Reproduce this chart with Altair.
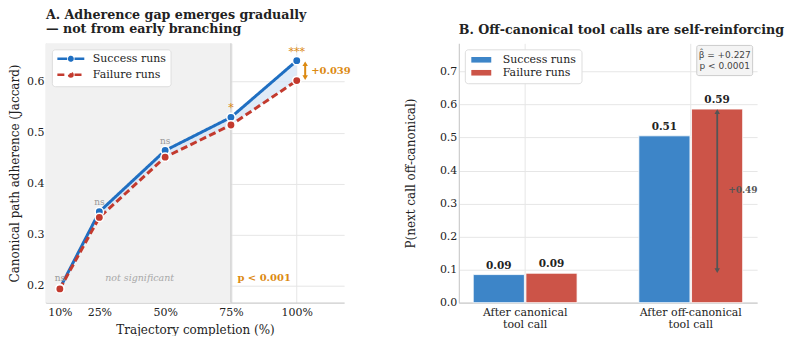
import altair as alt
import pandas as pd

# ---------------- data ----------------
completion = [10, 25, 50, 75, 100]
success_adh = [0.195, 0.345, 0.465, 0.530, 0.641]
failure_adh = [0.194, 0.334, 0.452, 0.515, 0.602]
sig_labels = ["ns", "ns", "ns", "*", "***"]
series_names = ["Success runs", "Failure runs"]
gap_label = "+0.039"

categories = ["After canonical|tool call", "After off-canonical|tool call"]
success_p = [0.085, 0.505]
failure_p = [0.089, 0.586]
bar_labels_s = ["0.09", "0.51"]
bar_labels_f = ["0.09", "0.59"]
diff_label = "+0.49"
stats_lines = ["β̂ = +0.227", "p < 0.0001"]

SERIF = "DejaVu Serif"
BLUE_L, RED_L = "#1f6fc2", "#c33a2e"
BLUE_B, RED_B = "#3d85c8", "#cc5448"
ORANGE = "#dc8a12"
TITLE_SIZE = 12.7

# ---------------- panel A ----------------
XDOM = [4.7, 118]
YDOM = [0.167, 0.675]
xA_scale = alt.Scale(domain=XDOM, nice=False, zero=False)
yA_scale = alt.Scale(domain=YDOM, nice=False, zero=False)
xA_axis = alt.Axis(values=completion, labelExpr="datum.value + '%'",
                   title="Trajectory completion (%)", grid=True, titlePadding=7)
yA_axis = alt.Axis(values=[0.2, 0.3, 0.4, 0.5, 0.6], format=".1f",
                   title="Canonical path adherence (Jaccard)", grid=True,
                   labelPadding=2, titlePadding=5)


def xa(f):
    return alt.X(f, scale=xA_scale, axis=xA_axis)


def ya(f):
    return alt.Y(f, scale=yA_scale, axis=yA_axis)


line_df = pd.DataFrame(
    [{"pct": c, "val": v, "series": series_names[0]} for c, v in zip(completion, success_adh)]
    + [{"pct": c, "val": v, "series": series_names[1]} for c, v in zip(completion, failure_adh)]
)
wide_df = pd.DataFrame({"pct": completion, "s": success_adh, "f": failure_adh, "sig": sig_labels})

shade_df = pd.DataFrame({"x0": [XDOM[0]], "x1": [75], "y0": [YDOM[0]], "y1": [YDOM[1]]})
shade = alt.Chart(shade_df).mark_rect(color="#f1f1f1").encode(
    x=xa("x0:Q"), x2="x1:Q", y=ya("y0:Q"), y2="y1:Q")

vline = alt.Chart(pd.DataFrame({"x": [75]})).mark_rule(color="#cdcdcd", strokeWidth=1.2).encode(
    x=xa("x:Q"))

band = alt.Chart(wide_df).mark_area(color="#d4e4f6", opacity=0.75).encode(
    x=xa("pct:Q"), y=ya("s:Q"), y2="f:Q")

LEG_A_SYM = ("M-1,0H1.45 M3.3,0H5.75 "
             "M1.95,0A0.42,0.42 0 1,0 2.79,0A0.42,0.42 0 1,0 1.95,0")
color_A = alt.Color("series:N", scale=alt.Scale(domain=series_names, range=[BLUE_L, RED_L]),
                    legend=alt.Legend(
                        title=None, orient="top-left", offset=6,
                        symbolType=LEG_A_SYM, symbolSize=64, symbolStrokeWidth=2.6,
                        labelFont=SERIF, labelFontSize=11, labelColor="#222",
                        fillColor="white", strokeColor="#dddddd", cornerRadius=3,
                        padding=4, rowPadding=1, labelOffset=26))

lines = alt.Chart(line_df).mark_line(strokeWidth=3).encode(
    x=xa("pct:Q"), y=ya("val:Q"), color=color_A,
    strokeDash=alt.StrokeDash("series:N", scale=alt.Scale(domain=series_names, range=[[1, 0], [7, 3.5]]),
                              legend=None))

points = alt.Chart(line_df).mark_point(filled=True, size=70, stroke="white", strokeWidth=1.5,
                                       opacity=1).encode(
    x=xa("pct:Q"), y=ya("val:Q"),
    fill=alt.Fill("series:N", scale=alt.Scale(domain=series_names, range=[BLUE_L, RED_L]), legend=None))

ns_df = wide_df[wide_df["sig"] == "ns"]
st_df = wide_df[wide_df["sig"] != "ns"]
ns_text = alt.Chart(ns_df).mark_text(font=SERIF, fontSize=9, color="#999999", dy=-10).encode(
    x=xa("pct:Q"), y=ya("s:Q"), text="sig:N")
st_text = alt.Chart(st_df).mark_text(font=SERIF, fontSize=11, color=ORANGE, dy=-9).encode(
    x=xa("pct:Q"), y=ya("s:Q"), text="sig:N")

region_df = pd.DataFrame({"pct": [40.3, 87.6], "y": [0.2155, 0.2155],
                          "t": ["not significant", "p < 0.001"]})
ns_region = alt.Chart(region_df.iloc[[0]]).mark_text(font=SERIF, fontSize=9.5, fontStyle="italic",
                                                     color="#a8a8a8").encode(
    x=xa("pct:Q"), y=ya("y:Q"), text="t:N")
p_region = alt.Chart(region_df.iloc[[1]]).mark_text(font=SERIF, fontSize=10, fontWeight="bold",
                                                    color=ORANGE).encode(
    x=xa("pct:Q"), y=ya("y:Q"), text="t:N")

arrow_x = 103.2
arr_df = pd.DataFrame({"pct": [arrow_x], "y0": [success_adh[-1] - 0.006], "y1": [failure_adh[-1] + 0.006],
                       "t": [gap_label], "ym": [(success_adh[-1] + failure_adh[-1]) / 2]})
arr_rule = alt.Chart(arr_df).mark_rule(color=ORANGE, strokeWidth=2).encode(
    x=xa("pct:Q"), y=ya("y0:Q"), y2="y1:Q")
arr_up = alt.Chart(arr_df).mark_point(shape="triangle-up", filled=True, color=ORANGE, size=30,
                                      opacity=1).encode(x=xa("pct:Q"), y=ya("y0:Q"))
arr_dn = alt.Chart(arr_df).mark_point(shape="triangle-down", filled=True, color=ORANGE, size=30,
                                      opacity=1).encode(x=xa("pct:Q"), y=ya("y1:Q"))
arr_txt = alt.Chart(arr_df).mark_text(font=SERIF, fontSize=10, fontWeight="bold", color=ORANGE,
                                      align="left", dx=6).encode(x=xa("pct:Q"), y=ya("ym:Q"), text="t:N")

panelA = alt.layer(shade, vline, band, lines, points, ns_text, st_text, ns_region, p_region,
                   arr_rule, arr_up, arr_dn, arr_txt).properties(
    width=299, height=260,
    title=alt.TitleParams(["A. Adherence gap emerges gradually", "— not from early branching"],
                          anchor="start", frame="group", font=SERIF, fontSize=TITLE_SIZE, fontWeight="bold",
                          color="#222", lineHeight=14, offset=7))

# ---------------- panel B ----------------
bar_df = pd.DataFrame(
    [{"cat": c, "series": series_names[0], "p": v, "lab": l} for c, v, l in zip(categories, success_p, bar_labels_s)]
    + [{"cat": c, "series": series_names[1], "p": v, "lab": l} for c, v, l in zip(categories, failure_p, bar_labels_f)]
)
xB_scale = alt.Scale(domain=categories, paddingInner=0.373, paddingOuter=0.087)
xB_axis = alt.Axis(title=None, labelAngle=0, labelExpr="split(datum.label, '|')",
                   grid=True, labelLineHeight=12)
yB_scale = alt.Scale(domain=[0, 0.785], nice=False, zero=True)
yB_axis = alt.Axis(values=[0, 0.1, 0.2, 0.3, 0.4, 0.5, 0.6, 0.7], format=".1f", tickCount=8,
                   title="P(next call off-canonical)", grid=True, labelPadding=2, titlePadding=22)


def xb(f, bp=None):
    if bp is None:
        return alt.X(f, scale=xB_scale, sort=categories, axis=xB_axis)
    return alt.X(f, scale=xB_scale, sort=categories, axis=xB_axis, bandPosition=bp)


def yb(f):
    return alt.Y(f, scale=yB_scale, axis=yB_axis)


xoff = alt.XOffset("series:N", scale=alt.Scale(domain=series_names, paddingInner=0.03))

bars = alt.Chart(bar_df).mark_bar(stroke="white", strokeWidth=0.8).encode(
    x=xb("cat:N"), y=yb("p:Q"), xOffset=xoff,
    color=alt.Color("series:N", scale=alt.Scale(domain=series_names, range=[BLUE_B, RED_B]),
                    legend=alt.Legend(title=None, orient="top-left", offset=6,
                                      symbolType="M-1,-0.7H4V0.7H-1Z", symbolSize=64,
                                      symbolStrokeWidth=0,
                                      labelFont=SERIF, labelFontSize=11, labelColor="#222",
                                      fillColor="white", strokeColor="#dddddd", cornerRadius=3,
                                      padding=5, rowPadding=1, labelOffset=22)))
bar_txt = alt.Chart(bar_df).mark_text(font=SERIF, fontSize=10.5, fontWeight="bold", color="#222",
                                      dy=-9).encode(x=xb("cat:N"), y=yb("p:Q"), xOffset=xoff, text="lab:N")

darr_df = pd.DataFrame({"cat": [categories[1]], "y0": [failure_p[1] - 0.008], "y1": [0.097],
                        "ym": [0.34], "t": [diff_label]})
darr_rule = alt.Chart(darr_df).mark_rule(color="#555555", strokeWidth=1.8).encode(
    x=xb("cat:N", 0.755), y=yb("y0:Q"), y2="y1:Q")
darr_up = alt.Chart(darr_df).mark_point(shape="triangle-up", filled=True, color="#555555", size=30,
                                        opacity=1).encode(x=xb("cat:N", 0.755), y=yb("y0:Q"))
darr_dn = alt.Chart(darr_df).mark_point(shape="triangle-down", filled=True, color="#555555", size=30,
                                        opacity=1).encode(x=xb("cat:N", 0.755), y=yb("y1:Q"))
darr_txt = alt.Chart(darr_df).mark_text(font=SERIF, fontSize=9, fontWeight="bold", color="#555555",
                                        align="left").encode(
    x=xb("cat:N", 0.86), y=yb("ym:Q"), text="t:N")

box_df = pd.DataFrame({"cat": [categories[1]], "y": [0.733]})
box = alt.Chart(box_df).mark_point(
    shape="M-0.93,-0.54H0.93A0.07,0.07 0 0 1 1,-0.47V0.47A0.07,0.07 0 0 1 0.93,0.54H-0.93A0.07,0.07 0 0 1 -1,0.47V-0.47A0.07,0.07 0 0 1 -0.93,-0.54Z",
    size=3136, filled=True, fill="#f4f4f4", stroke="#cccccc", strokeWidth=1, opacity=1).encode(
    x=xb("cat:N", 0.827), y=yb("y:Q"))
stat_df = pd.DataFrame({"cat": [categories[1]] * 2, "y": [0.750, 0.716], "t": stats_lines})
stat_txt = alt.Chart(stat_df).mark_text(font="DejaVu Sans", fontSize=9, color="#444444").encode(
    x=xb("cat:N", 0.827), y=yb("y:Q"), text="t:N")

panelB = alt.layer(bars, bar_txt, darr_rule, darr_up, darr_dn, darr_txt, box, stat_txt).properties(
    width=299, height=260,
    title=alt.TitleParams("B. Off-canonical tool calls are self-reinforcing", anchor="start", frame="group",
                          font=SERIF, fontSize=TITLE_SIZE, fontWeight="bold", color="#222", offset=7))

chart = alt.hconcat(panelA, panelB, spacing=53).resolve_scale(
    color="independent", fill="independent", strokeDash="independent"
).resolve_legend(color="independent").properties(
    padding={"left": 0, "top": 0, "right": 0, "bottom": 0}
).configure_view(stroke=None).configure_axis(
    labelFont=SERIF, titleFont=SERIF, labelFontSize=11, titleFontSize=12, labelColor="#222",
    titleColor="#222", titleFontWeight="normal", ticks=False, labelPadding=4, titlePadding=6,
    gridColor="#e6e6e6", domainColor="#cccccc", domainWidth=1.2
)

chart.save("out.html", embed_options={"renderer": "svg", "actions": False})
